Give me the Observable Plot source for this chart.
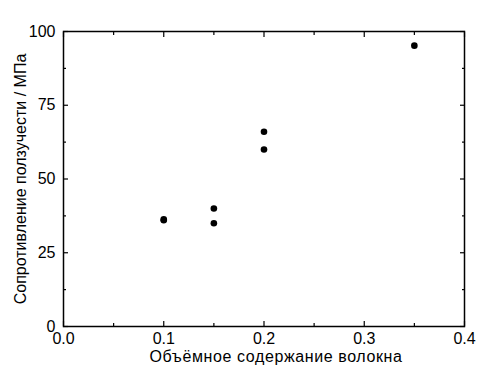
<!DOCTYPE html>
<html>
<head>
<meta charset="utf-8">
<script src="https://cdn.jsdelivr.net/npm/d3@7"></script>
<script src="https://cdn.jsdelivr.net/npm/@observablehq/plot@0.6"></script>
<style>
  html, body { margin: 0; padding: 0; background: #fff; }
  #chart svg { display: block; }
</style>
</head>
<body>
<div id="chart"></div>
<script>
const fiber = [0.1, 0.1, 0.15, 0.15, 0.2, 0.2, 0.35];
const creep = [36, 36.3, 40, 35, 66, 60, 95.2];
const xMajor = [0.0, 0.1, 0.2, 0.3, 0.4];
const xMinor = [0.05, 0.15, 0.25, 0.35];
const yMajor = [0, 25, 50, 75, 100];
const yMinor = [12.5, 37.5, 62.5, 87.5];
const xTitle = "Объёмное содержание волокна";
const yTitle = "Сопротивление ползучести / МПа";

const pts = fiber.map((f, i) => ({x: f, y: creep[i]}));
const font = "Liberation Sans, Arial, sans-serif";
const tk = {stroke: "#000", strokeWidth: 1.2, text: null, label: null};

const plot = Plot.plot({
  width: 497,
  height: 386,
  marginLeft: 63,
  marginRight: 33,
  marginTop: 31,
  marginBottom: 60,
  style: {fontFamily: font, fontSize: "16px", color: "#000", background: "#fff"},
  x: {domain: [0, 0.4]},
  y: {domain: [0, 100]},
  marks: [
    // labels
    Plot.axisX(xMajor, {anchor: "bottom", tickSize: 0, tickPadding: 6, tickFormat: d => d.toFixed(1), label: null, fontSize: 16, fill: "#000"}),
    Plot.axisY(yMajor, {anchor: "left", tickSize: 0, tickPadding: 8, label: null, fontSize: 16, fill: "#000"}),
    // inward ticks
    Plot.axisX(xMajor, {...tk, anchor: "bottom", tickSize: 5, dy: -5}),
    Plot.axisX(xMinor, {...tk, anchor: "bottom", tickSize: 3, dy: -3}),
    Plot.axisX(xMajor, {...tk, anchor: "top", tickSize: 5, dy: 5}),
    Plot.axisX(xMinor, {...tk, anchor: "top", tickSize: 3, dy: 3}),
    Plot.axisY(yMajor, {...tk, anchor: "left", tickSize: 5, dx: 5}),
    Plot.axisY(yMinor, {...tk, anchor: "left", tickSize: 3, dx: 3}),
    Plot.axisY(yMajor, {...tk, anchor: "right", tickSize: 5, dx: -5}),
    Plot.axisY(yMinor, {...tk, anchor: "right", tickSize: 3, dx: -3}),
    Plot.frame({stroke: "#000", strokeWidth: 1.5}),
    Plot.dot(pts, {x: "x", y: "y", r: 3.3, fill: "#000", stroke: null}),
    Plot.text([xTitle], {frameAnchor: "bottom", dy: 35, dx: 12, text: d => d, fontSize: 16, fill: "#000", textAnchor: "middle"}),
    Plot.text([yTitle], {frameAnchor: "left", dx: -43, text: d => d, rotate: -90, fontSize: 16, fill: "#000", textAnchor: "middle"})
  ]
});
d3.select(plot).selectAll("text").filter(function() { return this.textContent === xTitle; })
  .style("letter-spacing", "0.6px");
document.getElementById("chart").appendChild(plot);
</script>
</body>
</html>
